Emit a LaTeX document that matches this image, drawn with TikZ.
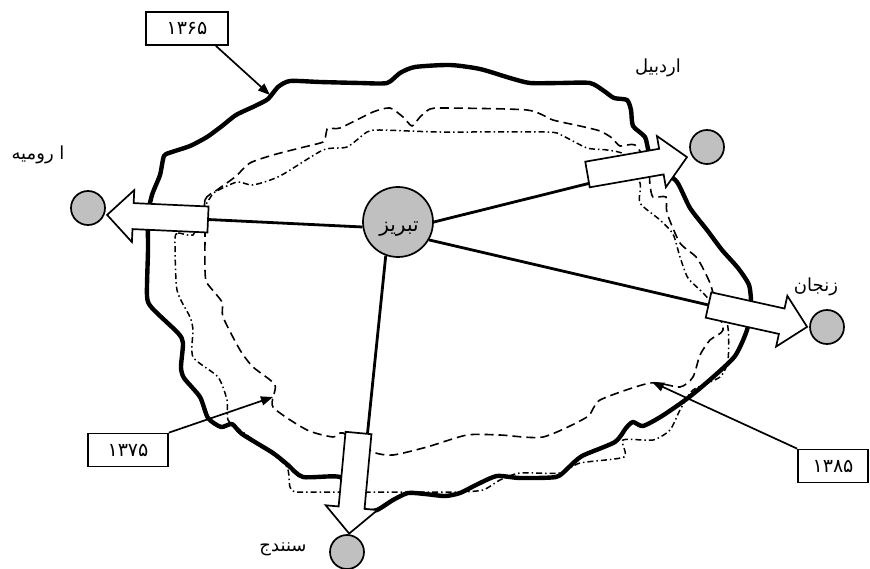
\documentclass[tikz,border=0pt]{standalone}
\usepackage{fontspec}
\newfontfamily\arabicfont[Script=Arabic]{DejaVu Sans}
\TeXXeTstate=1
\usetikzlibrary{arrows.meta}
\definecolor{cgray}{RGB}{192,192,192}
\tikzset{
  thickline/.style={line width=4.4pt, line join=round},
  dashline/.style={line width=1.6pt, dash pattern=on 9pt off 5pt},
  dotline/.style={line width=1.5pt, dash pattern=on 6pt off 3pt on 1.5pt off 3pt},
  conn/.style={line width=2.8pt},
  city/.style={circle, draw, line width=1.7pt, fill=cgray, minimum size=34pt, inner sep=0pt},
  arrowbox/.style={draw, fill=white, line width=1.7pt, line join=miter},
  yearbox/.style={draw, line width=1.7pt, fill=white, minimum width=80pt, minimum height=33pt, inner sep=0pt, font=\arabicfont\fontsize{19}{21}\selectfont},
  callout/.style={line width=1.7pt, -{Triangle[length=12pt,width=9pt]}},
  lbl/.style={inner sep=0pt, font=\arabicfont\fontsize{18}{20}\selectfont}
}
\newcommand{\blockarr}[3]{%
\begin{scope}[shift={#2},rotate=#3]
\draw[arrowbox] (0,-13) -- (75,-13) -- (75,-26) -- (101,0) -- (75,26) -- (75,13) -- (0,13) -- cycle;
\coordinate (#1-t) at (0,0);
\coordinate (#1-p) at (0,9);
\coordinate (#1-m) at (0,-9);
\end{scope}}
\begin{document}
\begin{tikzpicture}[x=1pt,y=-1pt]
\useasboundingbox (0,0) rectangle (870,569);
% contours
\draw[thickline] plot[smooth cycle, tension=0.4] coordinates {
(148,250) (148,215) (152,195) (160,175) (164,156) (172,152) (190,146) (207,137) (222,126) (236,115) (255,106) (268,99) (278,87) (290,81) (320,82) (360,83) (387,83) (400,73) (415,67) (450,65) (480,69) (510,78) (530,83) (560,83) (590,83) (604,91) (614,98) (627,100) (631,110) (633,126) (645,137) (649,152) (660,168) (677,182) (690,208) (707,230) (722,250) (738,268) (749,285) (751,305) (747,330) (735,356) (712,378) (688,398) (662,416) (643,426) (633,422) (626,428) (615,442) (582,456) (568,468) (556,477) (520,478) (497,476) (478,484) (460,493) (445,496) (425,494) (408,493) (393,500) (377,510) (365,510) (352,495) (340,477) (303,477) (288,465) (273,453) (242,434) (232,424) (221,427) (208,418) (200,397) (184,378) (181,367) (183,343) (178,333) (152,308) (147,296)};
\draw[dashline] plot[smooth cycle, tension=0.4] coordinates {
(205,233) (205,200) (217,190) (235,177) (250,163) (273,155) (300,148) (323,142) (326,134) (328,128) (340,128) (373,112) (390,108) (403,117) (412,126) (420,117) (430,109) (445,108) (527,110) (553,120) (580,126) (600,131) (612,138) (620,146) (635,145) (648,165) (650,185) (653,197) (666,197) (667,213) (680,243) (697,258) (710,283) (716,305) (723,330) (710,340) (700,355) (693,377) (680,387) (650,383) (600,400) (587,417) (543,437) (500,435) (467,435) (427,447) (393,455) (373,452) (343,433) (333,437) (307,430) (273,407) (275,385) (253,367) (240,350) (223,317) (222,302) (207,283) (205,270)};
\draw[dotline] plot[smooth cycle, tension=0.4] coordinates {
(175,240) (178,233) (193,235) (200,215) (210,198) (215,192) (237,182) (253,185) (280,176) (323,150) (347,147) (367,132) (380,130) (440,132) (547,132) (563,136) (587,148) (607,150) (625,155) (640,183) (640,203) (660,220) (673,234) (680,257) (688,278) (705,295) (727,323) (728,360) (720,377) (693,390) (680,410) (670,430) (653,440) (623,440) (624,457) (580,463) (560,473) (520,473) (500,480) (483,490) (457,492) (400,492) (340,492) (297,492) (290,487) (287,467) (267,450) (240,430) (228,420) (227,400) (218,377) (193,357) (193,330) (190,317) (177,290)};
% centre
\node[city, minimum size=70pt] (tabriz) at (398,222) {};
\node[lbl, font=\arabicfont\fontsize{20}{22}\selectfont] (tabrizlbl) at (399,229) {\beginR تبریز\endR};
% block arrows
\blockarr{U}{(208,219.5)}{177.4}
\blockarr{A}{(587.5,174.5)}{9.9}
\blockarr{Z}{(708.5,305)}{-12.5}
\blockarr{S}{(358.5,433)}{-95.3}
% connectors
\draw[conn] (tabriz.188) -- (U-t);
\draw[conn] (tabriz.0) -- (A-p);
\draw[conn] (tabriz.-30) -- (Z-t);
\draw[conn] (tabriz.-110) -- (S-m);
% cities
\node[city] (urmia) at (88,208) {};
\node[city] (ardabil) at (707,147) {};
\node[city] (zanjan) at (827,327) {};
\node[city] (sanandaj) at (347,552) {};
\node[lbl] (urmialbl) at (38,155) {\beginR ا رومیه\endR};
\node[lbl] (ardabillbl) at (658,68) {\beginR اردبیل\endR};
\node[lbl] (zanjanlbl) at (816,287) {\beginR زنجان\endR};
\node[lbl] (sanandajlbl) at (283,549) {\beginR سنندج\endR};
% year boxes
\node[yearbox, minimum width=82pt] (b1365) at (187,28.5) {۱۳۶۵};
\node[yearbox] (b1375) at (128,450) {۱۳۷۵};
\node[yearbox, minimum width=70pt] (b1385) at (833,466) {۱۳۸۵};
\coordinate (c1) at (270,95);
\coordinate (c2) at (273,397);
\coordinate (c3) at (652,382);
\draw[callout] ([xshift=-13pt]b1365.south east) -- (c1);
\draw[callout] (b1375.north east) -- (c2);
\draw[callout] (b1385.north west) -- (c3);
\end{tikzpicture}
\end{document}
